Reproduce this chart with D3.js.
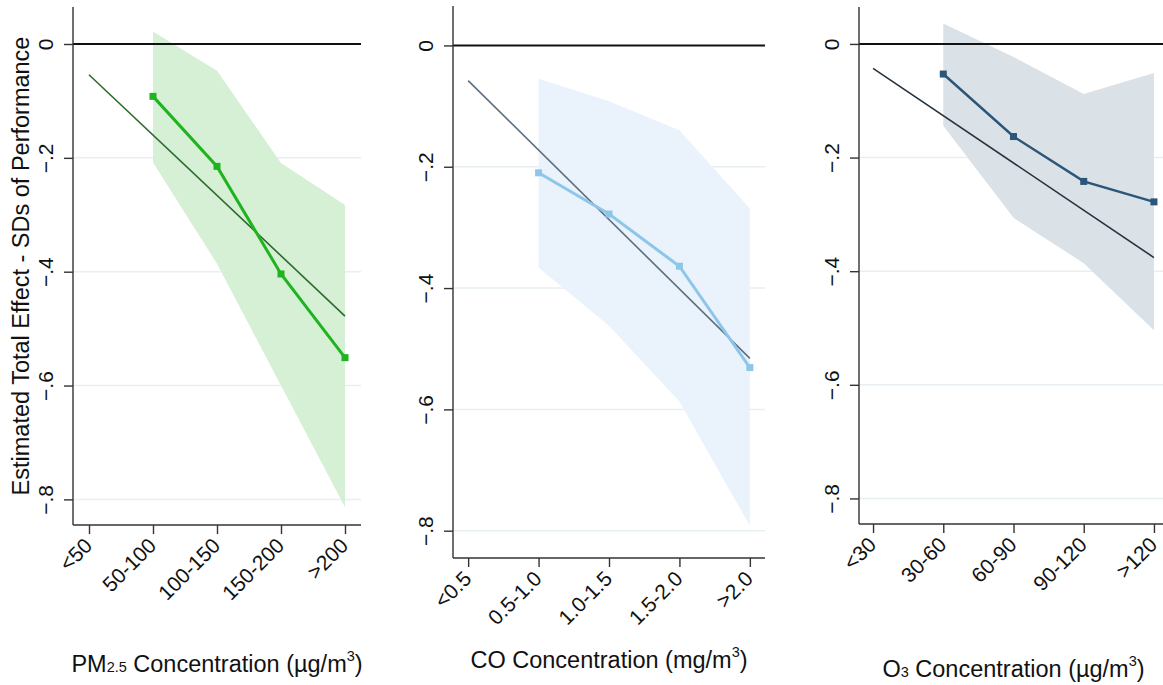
<!DOCTYPE html>
<html>
<head>
<meta charset="utf-8">
<script src="https://cdn.jsdelivr.net/npm/d3@7"></script>
<style>
  body { margin: 0; background: #fff; }
  svg { display: block; font-family: "Liberation Sans", Arial, sans-serif; }
</style>
</head>
<body>
<svg id="chart" width="1163" height="685"></svg>
<script>
// categories, estimates (from 2nd category on), CI bounds, linear fit at first/last category
var pmCats = ["<50", "50-100", "100-150", "150-200", ">200"];
var pmEst = [-0.092, -0.215, -0.404, -0.551];
var pmHi = [0.022, -0.047, -0.209, -0.283];
var pmLo = [-0.208, -0.386, -0.600, -0.814];
var pmFit = [-0.054, -0.478];

var coCats = ["<0.5", "0.5-1.0", "1.0-1.5", "1.5-2.0", ">2.0"];
var coEst = [-0.210, -0.278, -0.364, -0.531];
var coHi = [-0.055, -0.092, -0.140, -0.269];
var coLo = [-0.366, -0.462, -0.587, -0.792];
var coFit = [-0.058, -0.516];

var o3Cats = ["<30", "30-60", "60-90", "90-120", ">120"];
var o3Est = [-0.053, -0.163, -0.242, -0.278];
var o3Hi = [0.036, -0.023, -0.088, -0.051];
var o3Lo = [-0.144, -0.306, -0.386, -0.504];
var o3Fit = [-0.043, -0.376];

var yTicks = [0, -0.2, -0.4, -0.6, -0.8];

var panels = [
  {cats: pmCats, est: pmEst, hi: pmHi, lo: pmLo, fit: pmFit,
   x0: 73, x1: 361, pad: 0.25, top: 7, bottom: 525,
   fill: "#d5f0d5", line: "#1fb41f", fitColor: "#2e6a2e", lw: 3,
   title: ["PM", "2.5", " Concentration (\u00b5g/m", "3", ")"], titleY: 672},
  {cats: coCats, est: coEst, hi: coHi, lo: coLo, fit: coFit,
   x0: 453, x1: 765, pad: 0.215, top: 6, bottom: 558,
   fill: "#eaf3fb", line: "#8ec6ea", fitColor: "#5c6f80", lw: 3,
   title: ["CO Concentration (mg/m", null, "", "3", ")"], titleY: 668},
  {cats: o3Cats, est: o3Est, hi: o3Hi, lo: o3Lo, fit: o3Fit,
   x0: 859, x1: 1168, pad: 0.2, top: 7, bottom: 524,
   fill: "#dae1e7", line: "#2b5679", fitColor: "#26333f", lw: 2.5,
   title: ["O", "3", " Concentration (\u00b5g/m", "3", ")"], titleY: 677}
];

var svg = d3.select("#chart");

panels.forEach(function(p) {
  var g = svg.append("g");
  var x = d3.scalePoint().domain(p.cats).range([p.x0, p.x1]).padding(p.pad);
  var y = d3.scaleLinear().domain([-0.845, 0.065]).range([p.bottom, p.top]);

  var pts = p.est.map(function(v, i) {
    return {cat: p.cats[i + 1], est: v, hi: p.hi[i], lo: p.lo[i]};
  });

  // grid
  g.selectAll(".grid").data(yTicks.slice(1)).enter().append("line")
    .attr("x1", p.x0).attr("x2", p.x1)
    .attr("y1", function(d) { return y(d); }).attr("y2", function(d) { return y(d); })
    .attr("stroke", "#e7eff2").attr("stroke-width", 1.5);

  // CI band
  g.append("path").datum(pts)
    .attr("fill", p.fill)
    .attr("d", d3.area()
      .x(function(d) { return x(d.cat); })
      .y0(function(d) { return y(d.lo); })
      .y1(function(d) { return y(d.hi); }));

  // zero line
  g.append("line").attr("x1", p.x0).attr("x2", p.x1)
    .attr("y1", y(0)).attr("y2", y(0))
    .attr("stroke", "#111").attr("stroke-width", 2);

  // linear fit
  var ends = [p.cats[0], p.cats[p.cats.length - 1]];
  g.append("path").datum(p.fit)
    .attr("fill", "none").attr("stroke", p.fitColor).attr("stroke-width", 1.6)
    .attr("d", d3.line()
      .x(function(d, i) { return x(ends[i]); })
      .y(function(d) { return y(d); }));

  // estimates
  g.append("path").datum(pts)
    .attr("fill", "none").attr("stroke", p.line).attr("stroke-width", p.lw)
    .attr("d", d3.line()
      .x(function(d) { return x(d.cat); })
      .y(function(d) { return y(d.est); }));

  g.selectAll(".pt").data(pts).enter().append("rect")
    .attr("x", function(d) { return x(d.cat) - 3.5; })
    .attr("y", function(d) { return y(d.est) - 3.5; })
    .attr("width", 7).attr("height", 7)
    .attr("fill", p.line);

  // axes
  var ya = g.append("g").attr("transform", "translate(" + p.x0 + ",0)")
    .call(d3.axisLeft(y).tickValues(yTicks).tickSize(9)
      .tickFormat(function(d) { return d === 0 ? "0" : d3.format(".1f")(d).replace("0.", "."); }));
  ya.select(".domain").attr("d", "M0," + p.top + "V" + p.bottom).attr("stroke", "#333").attr("stroke-width", 1.4);
  ya.selectAll(".tick line").attr("stroke", "#333").attr("stroke-width", 1.4);
  ya.selectAll(".tick text")
    .attr("font-size", 21).attr("fill", "#111")
    .attr("text-anchor", "middle").attr("dy", 0).attr("x", null)
    .attr("transform", "translate(-20,0) rotate(-90)");

  var xa = g.append("g").attr("transform", "translate(0," + p.bottom + ")")
    .call(d3.axisBottom(x).tickSize(9));
  xa.select(".domain").attr("d", "M" + p.x0 + ",0H" + p.x1).attr("stroke", "#333").attr("stroke-width", 1.4);
  xa.selectAll(".tick line").attr("stroke", "#333").attr("stroke-width", 1.4);
  xa.selectAll(".tick text")
    .attr("font-size", 21).attr("fill", "#111")
    .attr("text-anchor", "end").attr("y", 0).attr("dy", 0)
    .attr("transform", "translate(4,22) rotate(-45)");

  // axis title
  var t = g.append("text").attr("x", (p.x0 + p.x1) / 2).attr("y", p.titleY)
    .attr("text-anchor", "middle").attr("font-size", 23.5).attr("fill", "#111");
  t.append("tspan").text(p.title[0]);
  if (p.title[1]) t.append("tspan").attr("font-size", 14.5).text(p.title[1]);
  t.append("tspan").text(p.title[2]);
  t.append("tspan").attr("font-size", 14.5).attr("dy", -11).text(p.title[3]);
  t.append("tspan").attr("dy", 11).text(p.title[4]);
});

svg.append("text")
  .attr("transform", "translate(29,266) rotate(-90)")
  .attr("text-anchor", "middle").attr("font-size", 23.5).attr("fill", "#111")
  .text("Estimated Total Effect - SDs of Performance");
</script>
</body>
</html>
